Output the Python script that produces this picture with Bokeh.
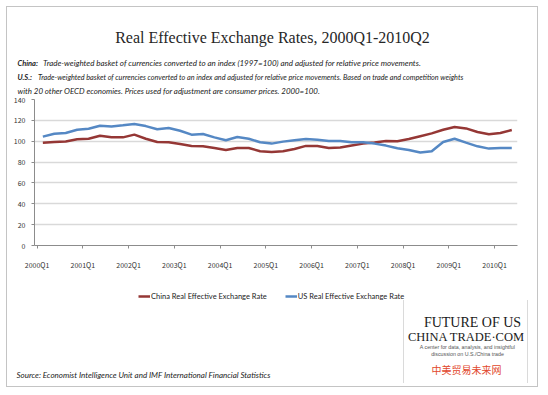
from bokeh.plotting import figure
from bokeh.layouts import column
from bokeh.models import Range1d, FixedTicker, SingleIntervalTicker, Label, Legend, LegendItem
from bokeh.embed import file_html
from bokeh.resources import INLINE

# ---------------- data ----------------
title_text = "Real Effective Exchange Rates, 2000Q1-2010Q2"
note_china_head = "China:"
note_china_body = "Trade-weighted basket of currencies converted to an index (1997=100) and adjusted for relative price  movements."
note_us_head = "U.S.:"
note_us_body = ("Trade-weighted basket of currencies converted to an index and adjusted for relative price movements. "
                "Based on trade and competition weights")
note_us_body2 = "with 20 other OECD economies. Prices used for adjustment are consumer prices. 2000=100."
source_text = "Source:  Economist Intelligence Unit and IMF International Financial Statistics"

quarters = ["2000Q1", "2000Q2", "2000Q3", "2000Q4", "2001Q1", "2001Q2", "2001Q3", "2001Q4",
            "2002Q1", "2002Q2", "2002Q3", "2002Q4", "2003Q1", "2003Q2", "2003Q3", "2003Q4",
            "2004Q1", "2004Q2", "2004Q3", "2004Q4", "2005Q1", "2005Q2", "2005Q3", "2005Q4",
            "2006Q1", "2006Q2", "2006Q3", "2006Q4", "2007Q1", "2007Q2", "2007Q3", "2007Q4",
            "2008Q1", "2008Q2", "2008Q3", "2008Q4", "2009Q1", "2009Q2", "2009Q3", "2009Q4",
            "2010Q1", "2010Q2"]
tick_labels = ["2000Q1", "2001Q1", "2002Q1", "2003Q1", "2004Q1", "2005Q1",
               "2006Q1", "2007Q1", "2008Q1", "2009Q1", "2010Q1"]

china = [98.6, 99.3, 99.8, 101.8, 102.4, 105.3, 103.7, 103.7, 106.3, 102.4, 99.3, 99.0,
         97.4, 95.5, 95.1, 93.5, 91.6, 93.5, 93.5, 90.4, 89.7, 90.4, 92.6, 95.5,
         95.5, 93.5, 93.9, 95.8, 97.7, 98.7, 100.3, 100.0, 102.1, 104.7, 107.5, 111.0,
         113.6, 112.3, 108.8, 106.6, 107.9, 110.7]
us = [104.4, 107.2, 107.9, 111.0, 112.0, 114.9, 114.2, 115.2, 116.5, 114.5, 111.4, 112.6,
      110.0, 106.3, 106.9, 103.7, 100.9, 104.0, 102.4, 99.0, 97.7, 99.6, 100.9, 102.1,
      101.5, 100.3, 100.3, 99.0, 99.0, 97.7, 95.8, 93.2, 91.6, 89.1, 90.4, 99.3,
      102.4, 98.6, 95.1, 92.9, 93.5, 93.5]

china_name = "China Real Effective Exchange Rate"
us_name = "US Real Effective Exchange Rate"
logo_line1 = "FUTURE OF US"
logo_line2 = "CHINA TRADE\u00b7COM"
logo_small1 = "A center for data, analysis, and insightful"
logo_small2 = "discussion on U.S./China trade"
logo_cn = "中美贸易未来网"

# ---------------- layout ----------------
W = 548
TOP_H, MAIN_H, BOT_H = 96, 179, 120
RED = "#953735"
BLUE = "#5588C4"
FRAME = "#C4C4C4"


def g(x, y, w, h, c=FRAME):
    return f"linear-gradient({c},{c}) {x}px {y}px / {w}px {h}px no-repeat"


def blank(h, y0, bg):
    f = figure(width=W, height=h, output_backend="svg", toolbar_location=None,
               x_range=Range1d(0, W), y_range=Range1d(y0 + h, y0),
               min_border=0, min_border_left=0, min_border_right=0,
               min_border_top=0, min_border_bottom=0,
               x_axis_location=None, y_axis_location=None, frame_align=False)
    f.grid.visible = False
    f.outline_line_color = None
    f.background_fill_color = None
    f.border_fill_color = None
    f.styles = {"background": bg}
    return f


def lab(f, text, X, Y, font="Lato", size="8px", style="normal", color="#222222", align="left"):
    f.add_layout(Label(x=X, y=Y, text=text, text_font=font, text_font_size=size,
                       text_font_style=style, text_color=color, text_align=align,
                       text_baseline="alphabetic"))


# --- top: title and notes ---
top = blank(TOP_H, 0, ", ".join([g(6, 6, 532, 1), g(6, 6, 1, 200), g(537, 6, 1, 200)]) + ", white")
lab(top, title_text, 272, 37, font="Liberation Serif", size="16px", color="#262626", align="center")
lab(top, note_china_head, 17, 62.5, size="7.5px", style="bold italic")
lab(top, note_china_body, 42.5, 62.5, size="8px", style="italic")
lab(top, note_us_head, 17, 76.5, size="7.5px", style="bold italic")
lab(top, note_us_body, 37.5, 76.5, size="7.25px", style="italic")
lab(top, note_us_body2, 17, 90, size="7.9px", style="italic")

# --- main chart ---
FL, FT, FW, FH = 34, 3, 483, 146
p = figure(width=W, height=MAIN_H, output_backend="svg", toolbar_location=None,
           x_range=Range1d(-0.23, 42.0), y_range=Range1d(0, 140),
           min_border_left=FL, min_border_right=W - FL - FW,
           min_border_top=FT, min_border_bottom=MAIN_H - FT - FH, frame_align=False)
p.outline_line_color = None
p.background_fill_color = "white"
p.border_fill_color = None
p.styles = {"background": ", ".join([g(6, 0, 1, 400), g(537, 0, 1, 400)]) + ", white"}

xs = [i + 0.5 for i in range(len(quarters))]
p.line(xs, china, line_color=RED, line_width=2.5, line_join="round")
p.line(xs, us, line_color=BLUE, line_width=2.5, line_join="round")

tick_pos = [quarters.index(t) for t in tick_labels]
p.xaxis.ticker = FixedTicker(ticks=tick_pos)
p.xaxis.major_label_overrides = {tp: lb for tp, lb in zip(tick_pos, tick_labels)}
p.xaxis.minor_tick_line_color = None
p.xaxis.major_tick_out = 3
p.xaxis.major_tick_in = 0
p.xaxis.axis_line_color = "#8C8C8C"
p.xaxis.major_tick_line_color = "#8C8C8C"
p.xaxis.major_label_standoff = 11
p.xaxis.major_label_text_font = "Noto Sans CJK KR"
p.xaxis.major_label_text_font_size = "7px"
p.xaxis.major_label_text_color = "#333333"

p.yaxis.ticker = SingleIntervalTicker(interval=20)
p.yaxis.minor_tick_line_color = None
p.yaxis.major_tick_out = 3
p.yaxis.major_tick_in = 0
p.yaxis.axis_line_color = "#8C8C8C"
p.yaxis.major_tick_line_color = "#8C8C8C"
p.yaxis.major_label_standoff = 5
p.yaxis.major_label_text_font = "Noto Sans CJK KR"
p.yaxis.major_label_text_font_size = "7px"
p.yaxis.major_label_text_color = "#333333"

p.xgrid.grid_line_color = None
p.ygrid.ticker = SingleIntervalTicker(interval=20)
p.ygrid.grid_line_color = "#D9D9D9"
p.ygrid.grid_line_width = 1.3

# --- bottom: legend, source, logo ---
Y0 = TOP_H + MAIN_H
bot = blank(BOT_H, Y0, ", ".join([g(6, 0, 1, 111), g(537, 0, 1, 111), g(6, 111, 532, 1),
                                   g(403, 25, 1, 83, "#DADADA"), g(527, 25, 1, 83, "#DADADA")]) + ", white")
# legend swatches: the same series, which fall outside this panel's visible range
lc = bot.line(xs, china, line_color=RED, line_width=2.5)
lu = bot.line(xs, us, line_color=BLUE, line_width=2.5)
legend = Legend(items=[LegendItem(label=china_name, renderers=[lc]),
                       LegendItem(label=us_name, renderers=[lu])],
                orientation="horizontal", location=(138, BOT_H - (290 - Y0) - 12),
                label_text_font="Lato", label_text_font_size="7.5px", label_text_color="#222222",
                glyph_width=12, glyph_height=12, label_standoff=1, spacing=18,
                padding=0, margin=0, border_line_color=None, background_fill_alpha=0,
                label_height=12)
bot.add_layout(legend, "center")

lab(bot, source_text, 16, 374, size="8px", style="italic", color="#222222")
lab(bot, logo_line1, 472, 322, font="Liberation Serif", size="14px", color="#1a1a1a", align="center")
lab(bot, logo_line2, 466, 336, font="Liberation Serif", size="12.5px", color="#1a1a1a", align="center")
lab(bot, logo_small1, 467, 346, font="Liberation Sans", size="5.3px", color="#555555", align="center")
lab(bot, logo_small2, 467, 353, font="Liberation Sans", size="5.3px", color="#555555", align="center")
lab(bot, logo_cn, 466, 369, font="Noto Sans CJK SC", size="10px", color="#E2472C", align="center")

page = column(top, p, bot, spacing=0)
open("out.html", "w").write(file_html(page, INLINE))
